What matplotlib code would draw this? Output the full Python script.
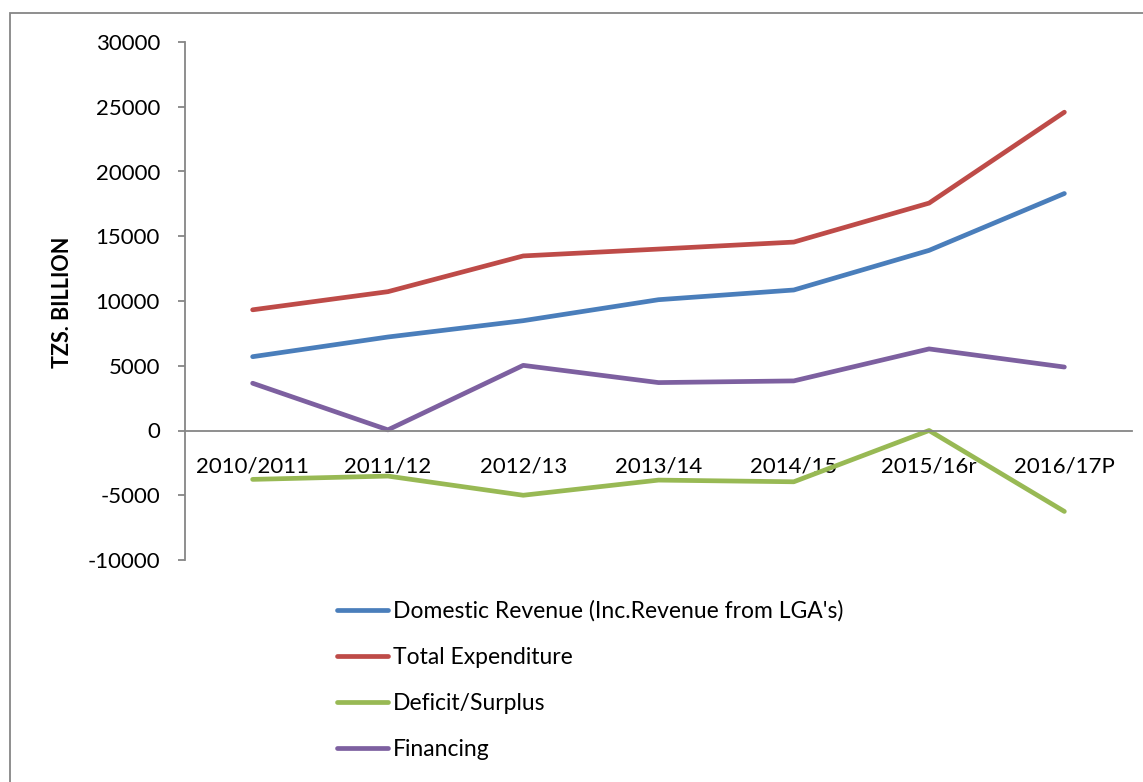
import numpy as np
import matplotlib.pyplot as plt
from matplotlib.patches import Rectangle

plt.rcParams['font.family'] = ['Lato', 'DejaVu Sans']
plt.rcParams['axes.unicode_minus'] = False

years = ['2010/2011', '2011/12', '2012/13', '2013/14', '2014/15', '2015/16r', '2016/17P']
domestic_revenue = [5700, 7220, 8480, 10100, 10850, 13910, 18300]
total_expenditure = [9320, 10720, 13480, 14010, 14550, 17560, 24580]
deficit_surplus = [-3775, -3520, -5000, -3830, -3960, 0, -6250]
financing = [3650, 50, 5030, 3700, 3830, 6300, 4900]

labels = ["Domestic Revenue (Inc.Revenue from LGA's)", 'Total Expenditure',
          'Deficit/Surplus', 'Financing']
colors = ['#4A7EBB', '#BE4B48', '#98B954', '#7D60A0']

W, H = 1143, 782
fig = plt.figure(figsize=(W / 100, H / 100), dpi=100)
ax = fig.add_axes([185 / W, 1 - 560 / H, (1132 - 185) / W, (560 - 42) / H])

x = np.arange(len(years))
series = [domestic_revenue, total_expenditure, deficit_surplus, financing]
lines = []
for s, c, lab in zip(series, colors, labels):
    ln, = ax.plot(x, s, color=c, linewidth=3.4, solid_capstyle='round',
                  solid_joinstyle='round', label=lab)
    lines.append(ln)

ax.set_xlim(-0.5, len(years) - 0.5)
ax.set_ylim(-10000, 30000)
ax.set_yticks(np.arange(-10000, 30001, 5000))
ax.set_xticks(x)
ax.set_xticklabels(years)

for sp in ['top', 'right']:
    ax.spines[sp].set_visible(False)
ax.spines['bottom'].set_position(('data', 0))
ax.spines['bottom'].set_color('#868686')
ax.spines['left'].set_color('#868686')
ax.spines['bottom'].set_linewidth(1.3)
ax.spines['left'].set_linewidth(1.3)

ax.tick_params(axis='y', length=5, width=1.3, color='#868686', pad=13, labelsize=16)
ax.tick_params(axis='x', length=0, pad=19, labelsize=16)

ax.set_ylabel('TZS. BILLION', fontsize=15.5, fontweight='bold')
ax.yaxis.set_label_coords(-112 / (1132 - 185), (560 - 302) / (560 - 42))

fig.legend(handles=lines, loc='upper left', bbox_to_anchor=(328 / W, 1 - 591 / H),
           frameon=False, fontsize=16.5, handlelength=2.2, handletextpad=0.25,
           labelspacing=1.1, borderaxespad=0)

# outer chart frame like the Excel chart area
fig.patches.append(Rectangle((10 / W, -0.1), 1.2, 1 - 13 / H + 0.1,
                             transform=fig.transFigure, fill=False,
                             edgecolor='#868686', linewidth=1.3))

fig.savefig('out.png', dpi=100)
